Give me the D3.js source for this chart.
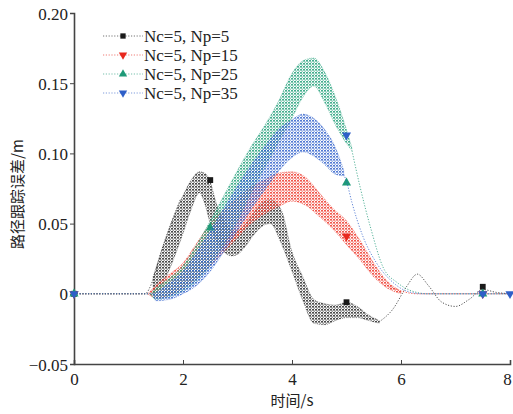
<!DOCTYPE html>
<html>
<head>
<meta charset="utf-8">
<script src="https://cdn.jsdelivr.net/npm/d3@7"></script>
<style>
  body { margin: 0; background: #fff; }
  svg { display: block; }
  .axis path, .axis line { stroke: #444; }
  .axis text { font-family: "Liberation Serif", "Times New Roman", serif; font-size: 17px; fill: #222; }
</style>
</head>
<body>
<div id="chart"></div>
<script>
// tick labels
const xTicks = [0, 2, 4, 6, 8];
const yTicks = [-0.05, 0, 0.05, 0.10, 0.15, 0.20];
const yTickLabels = ['\u22120.05', '0', '0.05', '0.10', '0.15', '0.20'];

const seriesNames = ['Nc=5, Np=5', 'Nc=5, Np=15', 'Nc=5, Np=25', 'Nc=5, Np=35'];

// Nc=5, Np=5 (black): band edges and dotted line
const blackBandT = [1.45, 1.6, 1.8, 2.0, 2.15, 2.3, 2.4, 2.5, 2.6, 2.75, 2.9, 3.0, 3.15, 3.3, 3.45, 3.6, 3.8, 4.0, 4.2, 4.4, 4.6, 4.8, 5.0, 5.2, 5.4, 5.6];
const blackLo = [0.0, 0.005, 0.022, 0.043, 0.06, 0.072, 0.064, 0.05, 0.04, 0.03, 0.027, 0.028, 0.034, 0.042, 0.048, 0.05, 0.036, 0.016, -0.005, -0.021, -0.022, -0.019, -0.017, -0.017, -0.019, -0.021];
const blackHi = [0.012, 0.03, 0.052, 0.07, 0.081, 0.087, 0.086, 0.08, 0.066, 0.052, 0.045, 0.045, 0.05, 0.058, 0.065, 0.067, 0.06, 0.03, 0.012, -0.004, -0.007, -0.008, -0.006, -0.009, -0.015, -0.019];
const blackLineT = [0, 1.3, 1.45, 1.6, 1.8, 1.95, null, 5.6, 5.85, 6.1, 6.3, 6.5, 6.75, 7.0, 7.25, 7.5, 7.75, 8];
const blackLineV = [0, 0, 0.01, 0.03, 0.052, 0.067, null, -0.02, -0.011, 0.005, 0.014, 0.006, -0.006, -0.009, -0.004, 0.003, 0.001, 0];
const blackMarks = [[0, 0], [2.5, 0.081], [5, -0.006], [7.5, 0.005]];

// Nc=5, Np=15 (red)
const redBandT = [1.35, 1.5, 1.75, 2.0, 2.25, 2.5, 2.75, 3.0, 3.25, 3.5, 3.75, 4.0, 4.25, 4.5, 4.75, 5.0, 5.25, 5.5, 5.75, 6.0];
const redLo = [0, -0.003, -0.001, 0.004, 0.011, 0.02, 0.03, 0.04, 0.05, 0.057, 0.062, 0.066, 0.063, 0.055, 0.046, 0.035, 0.024, 0.012, 0.004, 0.0];
const redHi = [0, 0.006, 0.014, 0.022, 0.036, 0.05, 0.06, 0.068, 0.076, 0.081, 0.086, 0.087, 0.083, 0.072, 0.061, 0.052, 0.038, 0.022, 0.009, 0.002];
const redLineT = [0, 1.35, null, 5.75, 6.0, 6.3, 8];
const redLineV = [0, 0, null, 0.006, 0.002, 0, 0];
const redMarks = [[0, 0], [5, 0.041], [7.5, 0]];

// Nc=5, Np=25 (green)
const greenBandT = [1.4, 1.5, 1.75, 2.0, 2.25, 2.5, 2.75, 3.0, 3.25, 3.5, 3.75, 4.0, 4.2, 4.4, 4.6, 4.8, 5.0, 5.1];
const greenLo = [0, -0.004, -0.002, 0.002, 0.009, 0.02, 0.035, 0.052, 0.072, 0.09, 0.108, 0.125, 0.14, 0.148, 0.136, 0.12, 0.107, 0.102];
const greenHi = [0, 0.004, 0.011, 0.02, 0.035, 0.052, 0.07, 0.088, 0.105, 0.12, 0.137, 0.157, 0.166, 0.168, 0.158, 0.14, 0.117, 0.104];
const greenLineT = [0, 1.4, null, 5.1, 5.25, 5.45, 5.67, 5.93, 6.2, 6.5, 8];
const greenLineV = [0, 0, null, 0.102, 0.076, 0.046, 0.019, 0.008, 0.002, 0, 0];
const greenMarks = [[0, 0], [2.5, 0.047], [5, 0.079], [7.5, 0]];

// Nc=5, Np=35 (blue)
const blueBandT = [1.45, 1.5, 1.75, 2.0, 2.25, 2.5, 2.75, 3.0, 3.25, 3.5, 3.75, 4.0, 4.2, 4.4, 4.6, 4.8, 4.95];
const blueLo = [0, -0.005, -0.004, 0.0, 0.006, 0.016, 0.03, 0.045, 0.06, 0.074, 0.087, 0.097, 0.101, 0.098, 0.092, 0.085, 0.084];
const blueHi = [0, 0.001, 0.008, 0.016, 0.03, 0.045, 0.061, 0.077, 0.092, 0.105, 0.117, 0.124, 0.128, 0.125, 0.117, 0.104, 0.088];
const blueLineT = [0, 1.45, null, 4.95, 5.0, 5.1, 5.3, 5.55, 5.8, 6.1, 6.4, 8];
const blueLineV = [0, 0, null, 0.085, 0.08, 0.065, 0.041, 0.022, 0.01, 0.002, 0, 0];
const blueMarks = [[0, 0], [5, 0.113], [7.5, 0], [8, 0]];

const width = 513, height = 414;
const margin = {left: 74, right: 3, top: 13, bottom: 50};

const svg = d3.select('#chart').append('svg')
    .attr('width', width)
    .attr('height', height);

const x = d3.scaleLinear().domain([0, 8]).range([margin.left, width - margin.right]);
const y = d3.scaleLinear().domain([-0.05, 0.2]).range([height - margin.bottom, margin.top]);

const series = [
    {name: seriesNames[0], color: '#1a1a1a', band: '#2b2b2b', t: blackBandT, lo: blackLo, hi: blackHi, lt: blackLineT, lv: blackLineV, marks: blackMarks, sym: 'square'},
    {name: seriesNames[1], color: '#e8281e', band: '#ee3b2e', t: redBandT, lo: redLo, hi: redHi, lt: redLineT, lv: redLineV, marks: redMarks, sym: 'down'},
    {name: seriesNames[2], color: '#1f9a78', band: '#23a07a', t: greenBandT, lo: greenLo, hi: greenHi, lt: greenLineT, lv: greenLineV, marks: greenMarks, sym: 'up'},
    {name: seriesNames[3], color: '#2f5fc8', band: '#3564cc', t: blueBandT, lo: blueLo, hi: blueHi, lt: blueLineT, lv: blueLineV, marks: blueMarks, sym: 'down'}
];

// speckled fill for the bands
const defs = svg.append('defs');
series.forEach((s, i) => {
    const p = defs.append('pattern')
        .attr('id', `speck${i}`)
        .attr('width', 3).attr('height', 3)
        .attr('patternUnits', 'userSpaceOnUse');
    p.append('rect').attr('width', 2).attr('height', 1.6).attr('fill', s.band).attr('opacity', 0.85);
    p.append('rect').attr('x', 1.5).attr('y', 1.6).attr('width', 1.5).attr('height', 1.2).attr('fill', s.band).attr('opacity', 0.6);
});

// axes
const xAxis = svg.append('g')
    .attr('class', 'axis')
    .attr('transform', `translate(0,${y(-0.05)})`)
    .call(d3.axisBottom(x).tickValues(xTicks).tickSize(-4).tickPadding(9).tickFormat(d3.format('d')));
xAxis.select('.domain').attr('stroke-width', 1.6);
xAxis.selectAll('.tick text').filter(d => d === 8).attr('dx', '-3px');

const yAxis = svg.append('g')
    .attr('class', 'axis')
    .attr('transform', `translate(${x(0)},0)`)
    .call(d3.axisLeft(y).tickValues(yTicks).tickSize(4).tickPadding(2)
        .tickFormat((d, i) => yTickLabels[i]));
yAxis.select('.domain').attr('stroke-width', 1.6);
yAxis.selectAll('.tick text').attr('dy', '0.36em');

const area = d3.area()
    .x(d => x(d[0]))
    .y0(d => y(d[1]))
    .y1(d => y(d[2]))
    .curve(d3.curveMonotoneX);

const line = d3.line()
    .defined(d => d[0] !== null)
    .x(d => x(d[0]))
    .y(d => y(d[1]))
    .curve(d3.curveMonotoneX);

const symbolFor = (sym, size) => {
    if (sym === 'square') return d3.symbol().type(d3.symbolSquare).size(size)();
    return d3.symbol().type(d3.symbolTriangle).size(size)();
};

const plot = svg.append('g');

series.forEach((s, i) => {
    const bandData = s.t.map((t, k) => [t, s.lo[k], s.hi[k]]);
    const lineData = s.lt.map((t, k) => [t, s.lv[k]]);

    plot.append('path')
        .attr('d', line(lineData))
        .attr('fill', 'none')
        .attr('stroke', s.color)
        .attr('stroke-width', 1)
        .attr('stroke-dasharray', '1.2,1.6')
        .attr('opacity', 0.75);

    plot.append('path')
        .attr('d', area(bandData))
        .attr('fill', `url(#speck${i})`)
        .attr('stroke', s.band)
        .attr('stroke-width', 0.6)
        .attr('stroke-dasharray', '1,1')
        .attr('stroke-opacity', 0.6);

    plot.selectAll(null)
        .data(s.marks)
        .enter().append('path')
        .attr('d', symbolFor(s.sym, s.sym === 'square' ? 34 : 36))
        .attr('transform', d => `translate(${x(d[0])},${y(d[1])})` + (s.sym === 'down' ? ' rotate(180)' : ''))
        .attr('fill', s.color);
});

// legend
const legend = svg.append('g').attr('transform', 'translate(103,36)');
series.forEach((s, i) => {
    const row = legend.append('g').attr('transform', `translate(0,${i * 19})`);
    row.append('line')
        .attr('x1', 0).attr('x2', 40)
        .attr('stroke', s.color)
        .attr('stroke-width', 1)
        .attr('stroke-dasharray', '1.2,1.6')
        .attr('opacity', 0.6);
    row.append('path')
        .attr('d', symbolFor(s.sym, s.sym === 'square' ? 28 : 30))
        .attr('transform', 'translate(20,0)' + (s.sym === 'down' ? ' rotate(180)' : ''))
        .attr('fill', s.color);
    row.append('text')
        .attr('x', 41).attr('y', 0).attr('dy', '0.35em')
        .style('font-family', '"Liberation Serif", "Times New Roman", serif')
        .style('font-size', '17px')
        .attr('fill', '#222')
        .text(s.name);
});

// axis titles
svg.append('text')
    .attr('x', x(4)).attr('y', 406)
    .attr('text-anchor', 'middle')
    .style('font-family', '"Noto Sans CJK SC", sans-serif')
    .style('font-size', '15px')
    .attr('fill', '#222')
    .text('时间/s');

svg.append('text')
    .attr('transform', 'translate(23,194) rotate(-90)')
    .attr('text-anchor', 'middle')
    .style('font-family', '"Noto Sans CJK SC", sans-serif')
    .style('font-size', '15px')
    .attr('fill', '#222')
    .text('路径跟踪误差/m');
</script>
</body>
</html>
